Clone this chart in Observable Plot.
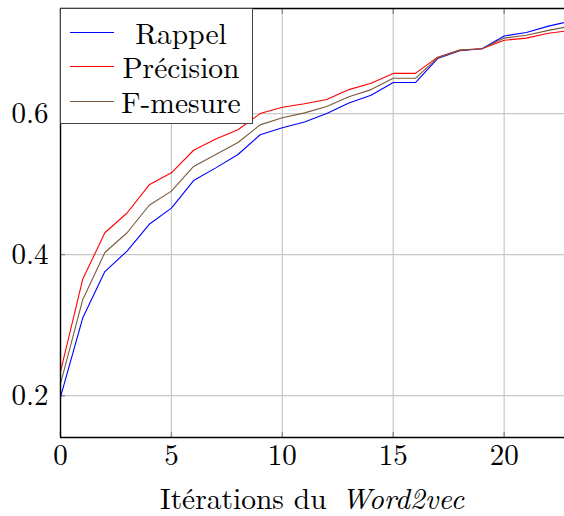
<!DOCTYPE html>
<html>
<head>
<meta charset="utf-8">
<script src="https://cdn.jsdelivr.net/npm/d3@7"></script>
<script src="https://cdn.jsdelivr.net/npm/@observablehq/plot@0.6"></script>
<style>
  body { margin: 0; background: #fff; }
  #wrap { position: relative; width: 564px; height: 516px; font-family: 'Latin Modern Roman', 'Liberation Serif', serif; }
  #legend { position: absolute; left: 60px; top: 8px; width: 193px; height: 116px; border: 1.3px solid #444; background: #fff; box-sizing: border-box; }
  .row { position: absolute; left: 0; width: 100%; height: 34.7px; display: flex; align-items: center; }
  .sw { position: absolute; left: 9px; width: 44px; height: 0; border-top: 1px solid; top: 50%; }
  .lab { margin-left: 60px; width: 120px; text-align: center; font-size: 29.5px; line-height: normal; }
  #xlabel { position: absolute; left: 60px; width: 504px; top: 477px; height: 40px; display: flex; align-items: center; justify-content: center; font-size: 29.5px; line-height: normal; white-space: nowrap; }
</style>
</head>
<body>
<div id="wrap"></div>
<script>
const iterations = [0,1,2,3,4,5,6,7,8,9,10,11,12,13,14,15,16,17,18,19,20,21,22,23];
const rappel    = [0.198,0.310,0.376,0.405,0.443,0.466,0.505,0.523,0.542,0.570,0.580,0.588,0.600,0.615,0.626,0.644,0.644,0.678,0.689,0.692,0.710,0.715,0.724,0.731];
const precision = [0.234,0.365,0.431,0.459,0.499,0.516,0.548,0.564,0.577,0.600,0.609,0.614,0.620,0.634,0.643,0.657,0.657,0.680,0.690,0.692,0.704,0.707,0.714,0.718];
const fmesure   = [0.217,0.336,0.403,0.431,0.470,0.490,0.525,0.542,0.559,0.584,0.594,0.601,0.610,0.624,0.634,0.650,0.650,0.679,0.690,0.692,0.707,0.711,0.718,0.724];
const seriesNames = ["Rappel", "Précision", "F-mesure"];
const seriesColors = ["#0000ff", "#ff0000", "#7a5a3c"];
const xTicks = [0, 5, 10, 15, 20];
const yTicks = [0.2, 0.4, 0.6];
const xDomain = [0, 22.72];
const yDomain = [0.1407, 0.749];
const FONT = "'Latin Modern Roman', 'Liberation Serif', serif";

const values = [rappel, precision, fmesure];
const data = [];
seriesNames.forEach((s, k) => iterations.forEach((it, i) => data.push({series: s, x: it, y: values[k][i]})));

const chart = Plot.plot({
  width: 564,
  height: 516,
  marginLeft: 60,
  marginRight: 0,
  marginTop: 8,
  marginBottom: 79,
  style: {fontFamily: FONT, fontSize: "29px", color: "#000", background: "#fff"},
  x: {domain: xDomain},
  y: {domain: yDomain},
  color: {domain: seriesNames, range: seriesColors},
  marks: [
    Plot.ruleX(xTicks, {stroke: "#c8c8c8", strokeWidth: 1.2, strokeOpacity: 1}),
    Plot.ruleY(yTicks, {stroke: "#c8c8c8", strokeWidth: 1.2, strokeOpacity: 1}),
    Plot.axisX(xTicks, {anchor: "bottom", tickSize: -5, stroke: "#888", strokeWidth: 1.3, tickFormat: () => "", label: null}),
    Plot.axisX(xTicks, {anchor: "top", tickSize: -5, stroke: "#888", strokeWidth: 1.3, tickFormat: () => "", label: null}),
    Plot.axisY(yTicks, {anchor: "left", tickSize: -5, stroke: "#888", strokeWidth: 1.3, tickFormat: () => "", label: null}),
    Plot.axisX(xTicks, {anchor: "bottom", tickSize: 0, tickPadding: 7, label: null, fontFamily: FONT}),
    Plot.axisY(yTicks, {anchor: "left", tickSize: 0, tickPadding: 12, tickFormat: d3.format(".1f"), label: null, fontFamily: FONT}),
    Plot.line(data, {x: "x", y: "y", z: "series", stroke: "series", strokeWidth: 1.1, clip: true}),
    Plot.ruleX([xDomain[0]], {stroke: "#000", strokeWidth: 1.4}),
    Plot.ruleY([yDomain[0], yDomain[1]], {stroke: "#000", strokeWidth: 1.4})
  ]
});
chart.style.fontFamily = FONT;

const wrap = document.getElementById("wrap");
wrap.appendChild(chart);

const legend = document.createElement("div");
legend.id = "legend";
seriesNames.forEach((s, i) => {
  const row = document.createElement("div");
  row.className = "row";
  row.style.top = (5.2 + i * 34.7) + "px";
  const sw = document.createElement("div");
  sw.className = "sw";
  sw.style.borderTopColor = seriesColors[i];
  const lab = document.createElement("span");
  lab.className = "lab";
  lab.style.fontFamily = FONT;
  lab.textContent = s;
  row.appendChild(sw);
  row.appendChild(lab);
  legend.appendChild(row);
});
wrap.appendChild(legend);

const xl = document.createElement("div");
xl.id = "xlabel";
xl.style.fontFamily = FONT;
xl.innerHTML = "<span>Itérations du <i style=\"margin-left:5px\">Word2vec</i></span>";
wrap.appendChild(xl);
</script>
</body>
</html>
